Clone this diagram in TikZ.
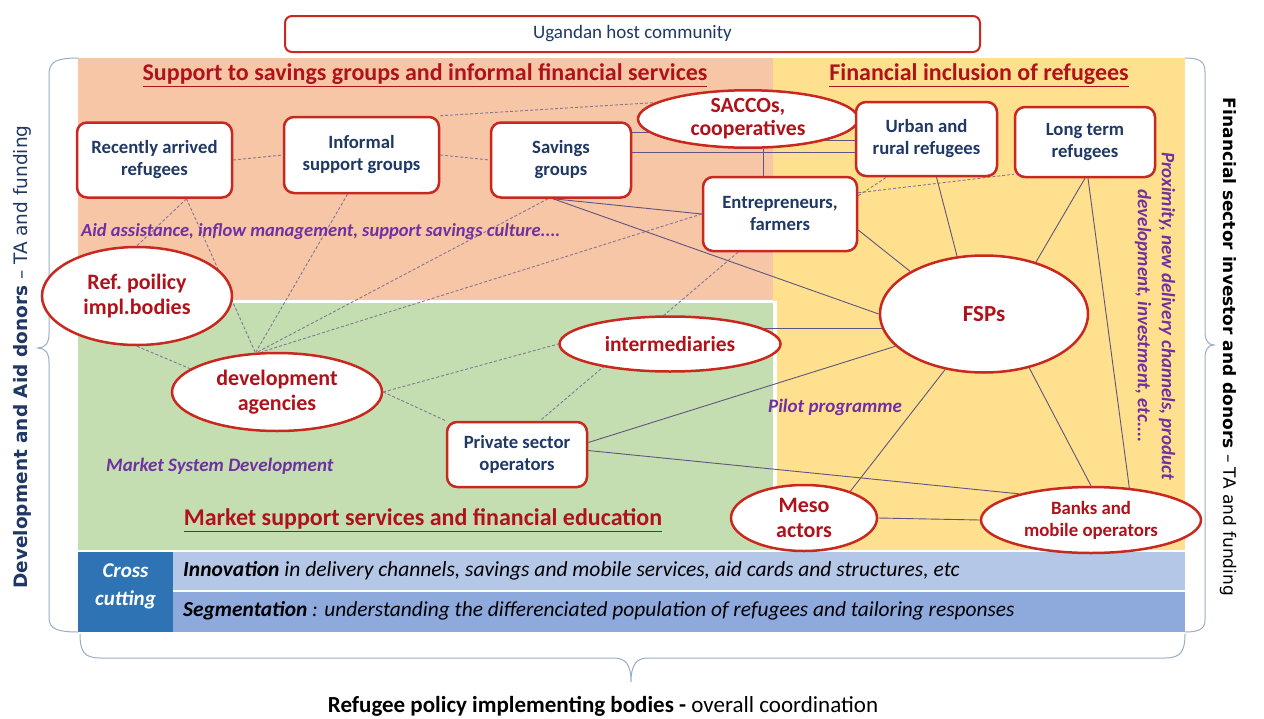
\documentclass[tikz,border=0pt]{standalone}
\usepackage{fontspec}
\setmainfont{Carlito}
\newfontfamily\vfont{DejaVu Sans}
\usetikzlibrary{shapes.geometric,calc}
\definecolor{salmon}{HTML}{F6C6A6}
\definecolor{yel}{HTML}{FFE08F}
\definecolor{grn}{HTML}{C4DEB2}
\definecolor{nodered}{HTML}{C8281E}
\definecolor{darkred}{HTML}{B0121B}
\definecolor{navy}{HTML}{1F3864}
\definecolor{purp}{HTML}{7030A0}
\definecolor{ccblue}{HTML}{2E74B5}
\definecolor{bandA}{HTML}{B4C7E7}
\definecolor{bandB}{HTML}{8EA9DB}
\definecolor{solidc}{HTML}{5F5580}
\definecolor{dashc}{HTML}{857696}
\definecolor{bracec}{HTML}{9AAEC6}
\pgfdeclarelayer{back}\pgfdeclarelayer{mid}\pgfsetlayers{back,mid,main}
\begin{document}
\begin{tikzpicture}[x=1pt,y=-1pt,
  rbox/.style={draw=nodered, line width=2.5pt, fill=white, rounded corners=10pt, align=center,
    font=\bfseries\fontsize{18.7}{22}\selectfont, text=navy, inner sep=0pt},
  rell/.style={draw=nodered, line width=2.5pt, fill=white, ellipse, align=center,
    font=\bfseries\fontsize{22}{25}\selectfont, text=darkred, inner sep=0pt},
  title/.style={font=\bfseries\fontsize{24}{27}\selectfont, text=darkred},
  note/.style={font=\bfseries\itshape\fontsize{18.5}{21}\selectfont, text=purp, inner sep=0pt},
  sline/.style={draw=solidc, line width=0.9pt},
  dline/.style={draw=dashc, line width=0.9pt, dash pattern=on 3pt off 2pt},
  brc/.style={draw=bracec, line width=1pt}
]
\useasboundingbox (0,0) rectangle (1264,718);

% panels
\begin{pgfonlayer}{back}
\fill[white] (0,0) rectangle (1264,718);
\fill[salmon] (78,58) rectangle (773,300);
\fill[yel] (773,58) rectangle (1185,550);
\fill[grn] (78,303) rectangle (773,550);
\fill[white] (773,301) rectangle (777,550);
\fill[ccblue] (78,552) rectangle (173,632);
\fill[bandA] (173,552) rectangle (1185,590);
\fill[bandB] (173,592) rectangle (1185,632);
\end{pgfonlayer}

% braces
\draw[brc] (78,58) .. controls (58,58) and (49,61) .. (49,74) -- (49,334)
  .. controls (49,343) and (45,348) .. (38,348) .. controls (45,348) and (49,353) .. (49,362)
  -- (49,618) .. controls (49,629) and (58,632) .. (78,632);
\draw[brc] (1185,58) .. controls (1199,58) and (1205,61) .. (1205,72) -- (1205,332)
  .. controls (1205,340) and (1208,345) .. (1214,345) .. controls (1208,345) and (1205,350) .. (1205,358)
  -- (1205,620) .. controls (1205,629) and (1199,632) .. (1185,632);
\draw[brc] (80,634) .. controls (80,651) and (84,658) .. (100,658) -- (614,658)
  .. controls (625,658) and (631,664) .. (631,682) .. controls (631,664) and (637,658) .. (648,658)
  -- (1165,658) .. controls (1181,658) and (1185,651) .. (1185,634);

% top box
\node[draw=nodered, line width=2pt, fill=white, rounded corners=7pt, minimum width=695pt, minimum height=36pt,
  inner sep=0pt, font=\fontsize{19}{22}\selectfont, text=navy] (host) at (632.5,34) {Ugandan host community};

% titles
\node[title] (t1) at (425,75) {\underline{Support to savings groups and informal financial services}};
\node[title] (t2) at (979,75) {\underline{Financial inclusion of refugees}};
\node[title] (t3) at (423,520) {\underline{Market support services and financial education}};

% nodes
\node[rbox, minimum width=155pt, minimum height=75pt] (recent) at (154.5,160) {Recently arrived\\refugees};
\node[rbox, minimum width=155pt, minimum height=76pt] (informal) at (361.5,155) {Informal\\support groups};
\node[rbox, minimum width=140pt, minimum height=75pt] (savings) at (561,160) {Savings\\groups};
\node[rell, minimum width=220pt, minimum height=55pt, font=\bfseries\fontsize{21.7}{23}\selectfont] (saccos) at (748,119) {SACCOs,\\cooperatives};
\node[rbox, minimum width=141pt, minimum height=74pt] (urban) at (926.5,139) {Urban and\\rural refugees};
\node[rbox, minimum width=140pt, minimum height=70pt] (longterm) at (1085,142) {Long term\\refugees};
\node[rbox, minimum width=154pt, minimum height=74pt] (entre) at (780,214) {Entrepreneurs,\\farmers};
\node[rell, minimum width=208pt, minimum height=117pt, font=\bfseries\fontsize{23}{26}\selectfont] (fsps) at (984,314) {FSPs};
\node[rell, minimum width=220pt, minimum height=66pt, font=\bfseries\fontsize{18.8}{22}\selectfont] (banks) at (1091,520) {Banks and\\mobile operators};
\node[rell, minimum width=146pt, minimum height=66pt] (meso) at (804,518) {Meso\\actors};
\node[rell, minimum width=221pt, minimum height=55pt, font=\bfseries\fontsize{21.5}{24}\selectfont] (interm) at (670,344) {intermediaries};
\node[rbox, minimum width=140pt, minimum height=65pt] (private) at (517,454.5) {Private sector\\operators};
\node[rell, minimum width=210pt, minimum height=78pt] (devag) at (277,392) {development\\agencies};
\node[rell, minimum width=190pt, minimum height=98pt] (refpol) at (137,296) {Ref.\ poilicy\\impl.bodies};

% connectors
\begin{pgfonlayer}{mid}
\draw[dline] (recent.east) -- (informal.west);
\draw[dline] (informal.east) -- (savings.west);
\draw[dline] (informal.north east) -- (saccos.170);
\draw[dline] ([xshift=32]recent.south) -- ([xshift=-22]devag.north);
\draw[dline] ([xshift=32]recent.south) -- (refpol.north);
\draw[dline] ([xshift=-14]informal.south) -- ([xshift=-21]devag.north);
\draw[dline] ([xshift=-13]savings.south) -- ([xshift=-19]devag.north);
\draw[dline] (entre.west) -- ([xshift=-15]devag.north);
\draw[dline] (refpol.south) -- (devag.165);
\draw[dline] (devag.east) -- (interm.west);
\draw[dline] (devag.east) -- (private.north west);
\draw[dline] ([xshift=-42]entre.south) -- ([xshift=23]private.north);
\draw[dline] ([yshift=-20]entre.north east) -- ([xshift=-40]urban.south);
\draw[dline] ([yshift=-17]entre.north east) -- ([yshift=4]longterm.south west);

\draw[sline] ([yshift=28]savings.east) -- ([yshift=28]savings.east -| saccos.center);
\draw[sline] ([yshift=8]savings.east) -- ([yshift=8]savings.east -| urban.west);
\draw[sline] ([yshift=-21]saccos.center) -- ([yshift=-21]saccos.center -| urban.west);
\draw[sline] ([xshift=15]saccos.south) -- ([xshift=15]saccos.south |- entre.north);
\draw[sline] ([xshift=-8]savings.south) -- (entre.west);
\draw[sline] ([xshift=-8]savings.south) -- (fsps.west);
\draw[sline] ([yshift=16]interm.center) -- ([yshift=16]interm.center -| fsps.center);
\draw[sline] ([yshift=12]private.east) -- (fsps.200);
\draw[sline] ([yshift=4]private.east) -- (banks.160);
\draw[sline] ([yshift=-16]entre.east) -- (fsps.150);
\draw[sline] ([xshift=10]urban.south) -- (fsps.115);
\draw[sline] (longterm.south) -- (fsps.45);
\draw[sline] ([xshift=3]longterm.south) -- (banks.40);
\draw[sline] (fsps.-50) -- (banks.north);
\draw[sline] (fsps.-125) -- (meso.30);
\draw[sline] (meso.east) -- (banks.west);
\end{pgfonlayer}

% notes
\node[note, anchor=west] (aid) at (81,232) {Aid assistance, inflow management, support savings culture....};
\node[note, anchor=west, font=\bfseries\itshape\fontsize{19}{22}\selectfont] (msd) at (106,466) {Market System Development};
\node[note, anchor=west, font=\bfseries\itshape\fontsize{19}{22}\selectfont] (pilot) at (768,407) {Pilot programme};
\node[note, rotate=-90, align=center, font=\bfseries\itshape\fontsize{19}{24}\selectfont] (prox) at (1155,316) {Proximity, new delivery channels, product\\development, investment, etc....};

% cross cutting
\node[font=\bfseries\itshape\fontsize{21}{28}\selectfont, text=white, align=center] (cc) at (125.5,586) {Cross\\cutting};
\node[anchor=west, font=\itshape\fontsize{21.5}{24}\selectfont, inner sep=0pt] (inno) at (183,571) {\textbf{Innovation} in delivery channels, savings and mobile services, aid cards and structures, etc};
\node[anchor=west, font=\itshape\fontsize{21.4}{24}\selectfont, inner sep=0pt] (segm) at (183,611) {\textbf{Segmentation} : understanding the differenciated population of refugees and tailoring responses};

% side labels
\node[rotate=90, text=navy, font=\vfont\fontsize{18.5}{22}\selectfont] (left) at (22,357) {\textbf{Development and Aid donors} – TA and funding};
\node[rotate=-90, text=black, font=\vfont\fontsize{17}{20}\selectfont] (right) at (1228,347) {\textbf{Financial sector investor and donors} – TA and funding};
\node[font=\fontsize{23}{26}\selectfont] (bottom) at (603,706) {\textbf{Refugee policy implementing bodies -} overall coordination};
\end{tikzpicture}
\end{document}
